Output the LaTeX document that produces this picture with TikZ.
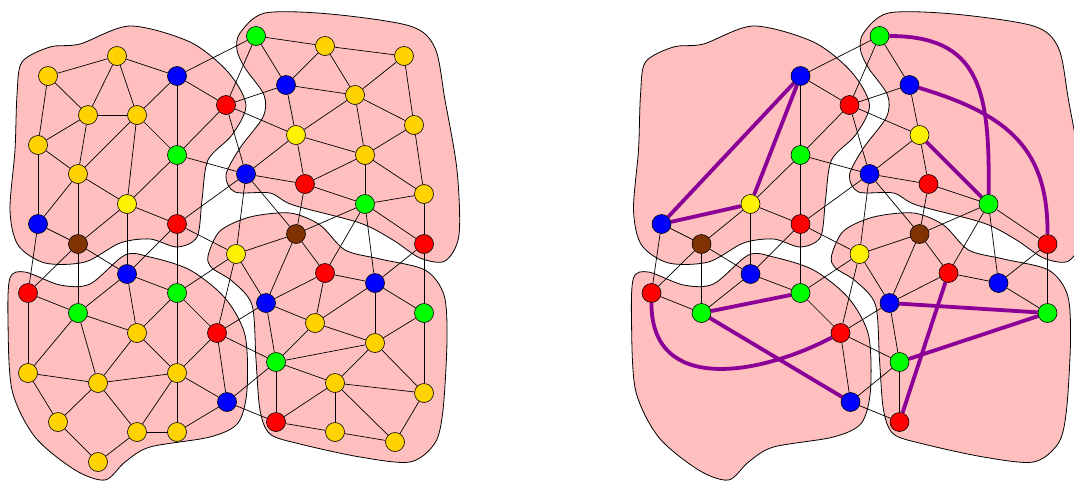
\documentclass[tikz,border=0pt]{standalone}

\definecolor{blobpink}{RGB}{255,191,191}
\definecolor{vgold}{RGB}{255,210,0}
\definecolor{vbrown}{RGB}{128,51,0}
\definecolor{vpurple}{RGB}{139,0,150}

\pgfdeclarelayer{blobs}
\pgfdeclarelayer{links}
\pgfsetlayers{blobs,links,main}

% vertices (pixel positions of the left copy)
\def\corenodes{b1/177/76/blue, b2/38/224/blue, b3/246/174/blue, b4/127/274/blue,
  b5/227/402/blue, b6/266/303/blue, b7/286/85/blue, b8/375/283/blue,
  r1/226/105/red, r2/177/224/red, r3/28/293/red, r4/217/333/red,
  r5/276/422/red, r6/305/184/red, r7/424/244/red, r8/325/273/red,
  g1/177/155/green, g2/78/313/green, g3/177/293/green, g4/276/362/green,
  g5/256/36/green, g6/365/204/green, g7/424/313/green,
  y1/127/204/yellow, y2/236/254/yellow, y3/296/135/yellow,
  n1/78/244/vbrown, n2/296/234/vbrown}
\def\goldnodes{o1/48/76, o2/117/56, o3/88/115, o4/137/115, o5/38/145, o6/78/174,
  o7/137/333, o8/28/373, o9/98/383, o10/177/373, o11/58/422, o12/137/432,
  o13/177/432, o14/98/462, o15/325/46, o16/404/56, o17/355/95, o18/414/125,
  o19/365/155, o20/424/194, o21/315/323, o22/375/343, o23/335/383,
  o24/424/393, o25/335/432, o26/395/442}

% edges kept in both copies
\def\coreedges{b1/g5, b1/r1, b1/g1, g1/r1, g1/y1, g1/r2, g1/b3, r1/b3, r1/g5,
  y1/r2, y1/n1, y1/b4, b2/n1, b2/r3, r2/b3, r2/y2, r2/b4, n1/r3, n1/g2, n1/b4,
  r3/g2, g2/b4, b4/g3, g3/r2, g3/y2, g3/r4, r4/y2, r4/b5, r4/b6, r4/g4,
  b5/g4, b5/r5, g5/b7, b7/r1, b7/y3, r1/y3, y3/b3, y3/r6, b3/r6, b3/n2, b3/y2,
  r6/g6, r6/n2, g6/r7, g6/n2, g6/b8, g6/r8, r7/g7, r7/b8, y2/n2, y2/b6,
  n2/b6, n2/r8, r8/b8, r8/b6, b8/g7, b6/g4, g4/r5}
% edges touching a gold vertex (left copy only)
\def\goldedges{o1/o2, o2/b1, b1/o4, o1/o3, o1/o5, o2/o3, o2/o4, o3/o4, o3/o5,
  o3/o6, o4/o6, o4/y1, o4/g1, o5/o6, o5/b2, o6/y1, o6/b2, o6/n1,
  r3/o8, g2/o7, g2/o8, g2/o9, b4/o7, g3/o7, g3/o10, o7/o9, o7/o10, r4/o10,
  o8/o9, o8/o11, o9/o10, o9/o11, o9/o12, o10/o12, o10/o13, o10/b5, b5/o13,
  o11/o14, o12/o13, o12/o14,
  g5/o15, o15/o16, o15/b7, o15/o17, o16/o17, o16/o18, b7/o17, o17/y3, o17/o18,
  o17/o19, o18/o19, o18/o20, y3/o19, o19/r6, o19/g6, o19/o20, g6/o20, o20/r7,
  r8/o21, b8/o21, b8/o22, b6/o21, g7/o22, g7/o24, o21/o22, o21/g4, o22/g4,
  o22/o23, o22/o24, g4/o23, o23/r5, o23/o24, o23/o25, o23/o26, o24/o26,
  r5/o25, o25/o26}

\newcommand{\drawblobs}{%
  \draw[blob] plot[smooth cycle] coordinates {(22,62) (50,47) (80,44) (130,26)
    (190,42) (228,72) (246,105) (232,135) (208,160) (202,200) (197,237)
    (177,247) (150,239) (120,243) (85,262) (45,263) (18,245) (10,210) (15,150)
    (17,95)};
  \draw[blob] plot[smooth cycle] coordinates {(240,33) (265,13) (330,14)
    (410,26) (435,48) (445,100) (457,170) (459,235) (445,261) (420,258)
    (393,240) (360,223) (293,205) (270,193) (235,192) (226,175) (240,148)
    (263,117) (264,95) (245,68) (237,50)};
  \draw[blob] plot[smooth cycle] coordinates {(10,278) (25,272) (60,285)
    (90,284) (125,255) (150,257) (190,270) (225,298) (245,335) (247,390)
    (238,423) (210,437) (150,447) (125,462) (105,480) (75,470) (35,437)
    (12,390) (8,320)};
  \draw[blob] plot[smooth cycle] coordinates {(208,256) (220,231) (250,217)
    (290,213) (320,225) (345,250) (380,259) (425,270) (444,295) (447,340)
    (443,410) (435,443) (410,462) (360,457) (300,444) (270,434) (260,410)
    (256,360) (252,305) (232,281) (212,268)};
}

\begin{document}
\begin{tikzpicture}[x=1pt,y=-1pt,
  vtx/.style={circle,draw=black,line width=0.6pt,minimum size=19pt,inner sep=0pt},
  link/.style={line width=0.7pt},
  cut/.style={line width=3.8pt,draw=vpurple},
  blob/.style={fill=blobpink,draw=black,line width=0.8pt}]
\useasboundingbox (0,0) rectangle (1074,480);

% left copy: all vertices
\foreach \n/\x/\y/\c in \corenodes
  \node[vtx,fill=\c] (l\n) at (\x,\y) {};
\foreach \n/\x/\y in \goldnodes
  \node[vtx,fill=vgold] (l\n) at (\x,\y) {};
% right copy: gold vertices removed
\foreach \n/\x/\y/\c in \corenodes
  \node[vtx,fill=\c] (r\n) at ({\x+623.5},\y) {};

\begin{pgfonlayer}{blobs}
  \drawblobs
  \begin{scope}[xshift=623.5pt]
    \drawblobs
  \end{scope}
\end{pgfonlayer}

\begin{pgfonlayer}{links}
  \foreach \a/\b in \coreedges {
    \draw[link] (l\a) -- (l\b);
    \draw[link] (r\a) -- (r\b);
  }
  \foreach \a/\b in \goldedges
    \draw[link] (l\a) -- (l\b);

  % contracted paths
  \draw[cut] (rb1) -- (rb2);
  \draw[cut] (rb1) -- (ry1);
  \draw[cut] (ry1) -- (rb2);
  \draw[cut] (ry3) -- (rg6);
  \draw[cut] (rg2) -- (rg3);
  \draw[cut] (rg2) -- (rb5);
  \draw[cut] (rb6) -- (rg7);
  \draw[cut] (rg4) -- (rg7);
  \draw[cut] (rr8) -- (rr5);
  \draw[cut] (rg5) .. controls (980,36) and (990,90) .. (rg6);
  \draw[cut] (rb7) .. controls (1010,115) and (1048,150) .. (rr7);
  \draw[cut] (rr3) .. controls (651,395) and (760,375) .. (rr4);
\end{pgfonlayer}
\end{tikzpicture}
\end{document}
